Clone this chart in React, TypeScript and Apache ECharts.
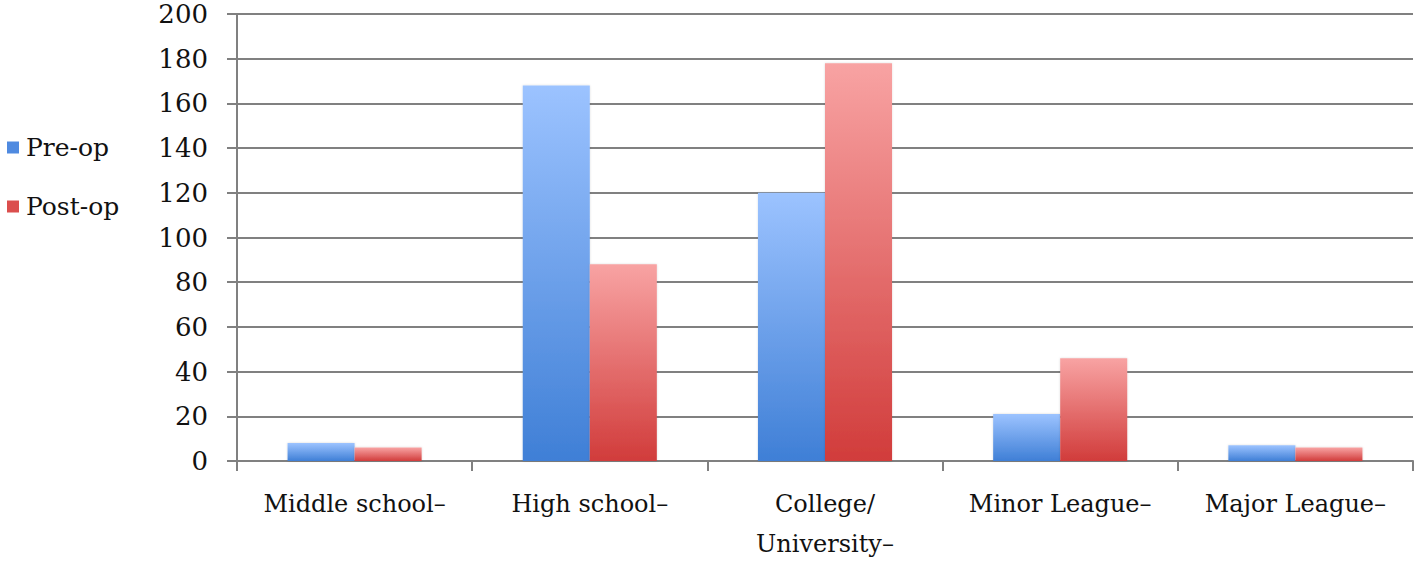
import React, { useEffect, useRef } from "react";
import * as echarts from "echarts";

const categories = ["Middle school–", "High school–", "College/\nUniversity–", "Minor League–", "Major League–"];
const preOp = [8, 168, 120, 21, 7];
const postOp = [6, 88, 178, 46, 6];
const yTicks = { min: 0, max: 200, interval: 20 };

const FONT = "'DejaVu Serif', 'Liberation Serif', serif";

export default function App() {
  const ref = useRef<HTMLDivElement>(null);
  useEffect(() => {
    if (!ref.current) return;
    const chart = echarts.init(ref.current, undefined, { renderer: "svg" });
    const blue = new echarts.graphic.LinearGradient(0, 0, 0, 1, [
      { offset: 0, color: "#9cc3ff" },
      { offset: 1, color: "#3f7fd6" },
    ]);
    const red = new echarts.graphic.LinearGradient(0, 0, 0, 1, [
      { offset: 0, color: "#f8a3a3" },
      { offset: 1, color: "#d13c3b" },
    ]);
    chart.setOption({
      animation: false,
      backgroundColor: "#ffffff",
      textStyle: { fontFamily: FONT },
      legend: {
        orient: "vertical",
        left: 2,
        top: 130,
        itemWidth: 12,
        itemHeight: 12,
        itemGap: 34,
        icon: "rect",
        textStyle: { fontFamily: FONT, fontSize: 25, color: "#111", padding: [0, 0, 0, 2] },
        data: [
          { name: "Pre-op", itemStyle: { color: "#4f8ae0" } },
          { name: "Post-op", itemStyle: { color: "#db4e4d" } },
        ],
      },
      grid: { left: 237, right: 5, top: 14, bottom: 96 },
      xAxis: {
        type: "category",
        data: categories,
        boundaryGap: true,
        axisLine: { show: true, lineStyle: { color: "#808080", width: 2 } },
        axisTick: { show: true, length: 10, lineStyle: { color: "#808080", width: 2 } },
        axisLabel: { fontFamily: FONT, fontSize: 24, color: "#111", margin: 23, lineHeight: 40, interval: 0 },
      },
      yAxis: {
        type: "value",
        min: yTicks.min,
        max: yTicks.max,
        interval: yTicks.interval,
        axisLine: { show: true, lineStyle: { color: "#808080", width: 2 } },
        axisTick: { show: true, length: 10, lineStyle: { color: "#808080", width: 2 } },
        splitLine: { show: true, lineStyle: { color: "#808080", width: 2 } },
        axisLabel: { fontFamily: FONT, fontSize: 26, color: "#111", margin: 29 },
      },
      series: [
        {
          name: "Pre-op",
          type: "bar",
          data: preOp,
          barGap: "0%",
          barCategoryGap: "43%",
          itemStyle: { color: blue, shadowColor: "rgba(0,0,0,0.15)", shadowBlur: 2 },
        },
        {
          name: "Post-op",
          type: "bar",
          data: postOp,
          barGap: "0%",
          barCategoryGap: "43%",
          itemStyle: { color: red, shadowColor: "rgba(0,0,0,0.15)", shadowBlur: 2 },
        },
      ],
    });
    return () => chart.dispose();
  }, []);
  return <div ref={ref} style={{ position: "fixed", left: 0, top: 0, width: 1418, height: 564 }} />;
}
